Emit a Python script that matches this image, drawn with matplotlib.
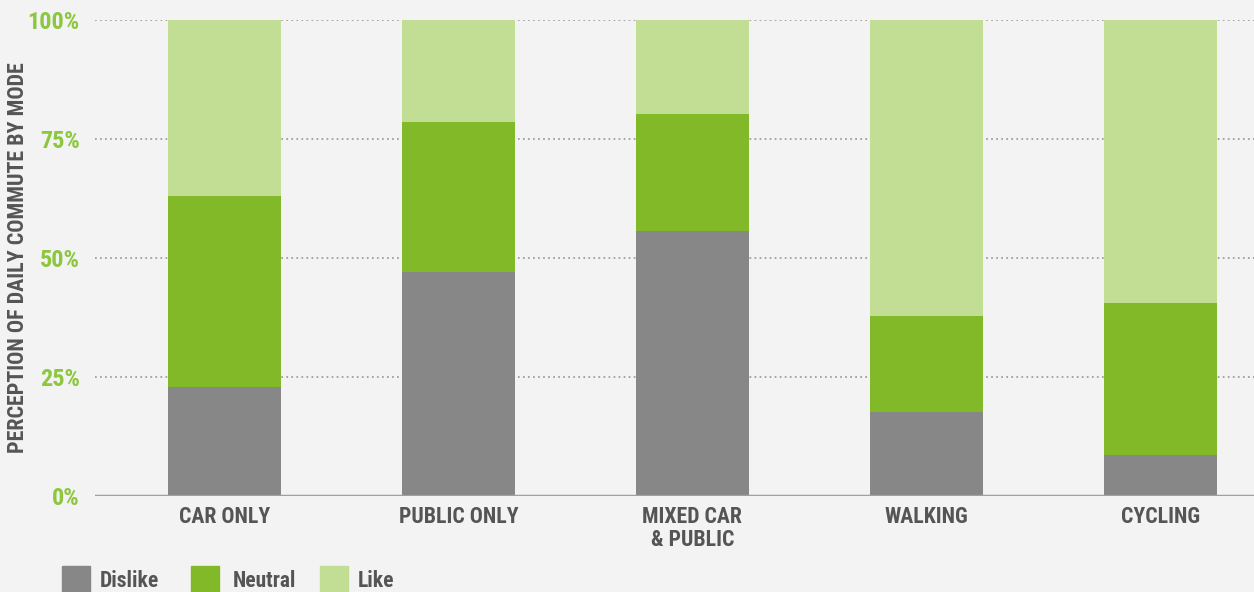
import matplotlib
matplotlib.use("Agg")
import matplotlib.pyplot as plt
from matplotlib import font_manager
from matplotlib.patches import Rectangle

categories = ["CAR ONLY", "PUBLIC ONLY", "MIXED CAR\n& PUBLIC", "WALKING", "CYCLING"]
dislike = [23, 47, 55.6, 17.7, 8.6]
neutral = [40, 31.5, 24.6, 20.2, 32.0]
like = [100 - d - n for d, n in zip(dislike, neutral)]
yticks = [0, 25, 50, 75, 100]
ytick_labels = ["0%", "25%", "50%", "75%", "100%"]
series_names = ["Dislike", "Neutral", "Like"]

names = {f.name for f in font_manager.fontManager.ttflist}
prefs = ["Liberation Sans Narrow", "Arial Narrow", "Nimbus Sans Narrow", "Roboto Condensed",
         "Pragati Narrow", "Archivo Narrow", "PT Sans Narrow"]
chosen = [f for f in prefs if f in names][:1]
fam = chosen + ["Liberation Sans", "DejaVu Sans"]
plt.rcParams['font.family'] = fam

bg = "#f3f3f3"
c_dis = "#878787"
c_neu = "#82b928"
c_like = "#c1de94"
green_txt = "#8dc63f"
gray_txt = "#555555"

fig = plt.figure(figsize=(12.54, 5.92), dpi=100, facecolor=bg)
ax = fig.add_axes([95/1254, 1 - 496/592, (1254-95)/1254, 476/592])
ax.set_facecolor(bg)

x = list(range(len(categories)))
w = 0.483
ax.bar(x, dislike, w, color=c_dis, zorder=3, label=series_names[0])
ax.bar(x, neutral, w, bottom=dislike, color=c_neu, zorder=3, label=series_names[1])
bot2 = [d + n for d, n in zip(dislike, neutral)]
ax.bar(x, like, w, bottom=bot2, color=c_like, zorder=3, label=series_names[2])

ax.set_xlim(-0.553, 4.40)
ax.set_ylim(0, 100)
for t in yticks[1:]:
    ax.axhline(t, color="#9a9a9a", linestyle=(0, (1, 1.9)), linewidth=1.25, zorder=1)
ax.axhline(0, color="#a0a0a0", linewidth=2.5, zorder=4)

for s in ax.spines.values():
    s.set_visible(False)
ax.set_yticks(yticks)
ax.set_yticklabels(ytick_labels, color=green_txt, fontsize=17.5, fontweight="bold")
ax.set_xticks(x)
ax.set_xticklabels(categories, color=gray_txt, fontsize=15.7, fontweight="bold", linespacing=1.05)
ax.tick_params(axis="both", length=0)
ax.tick_params(axis="y", pad=11)
ax.tick_params(axis="x", pad=7)

fig.text(18/1254, 1 - 258/592, "PERCEPTION OF DAILY COMMUTE BY MODE", rotation=90,
         ha="center", va="center", color=gray_txt, fontsize=15.8, fontweight="bold")

# legend
leg_sq = [62, 191, 320]
leg_txt = [100, 233, 358]
cols = [c_dis, c_neu, c_like]
for sx, tx, c, nm in zip(leg_sq, leg_txt, cols, series_names):
    fig.patches.append(Rectangle((sx/1254, 0), 28/1254, 26/592, transform=fig.transFigure,
                                 color=c, figure=fig))
    fig.text(tx/1254, 1 - 581/592, nm, ha="left", va="center", color=gray_txt,
             fontsize=15.5, fontweight="bold")

fig.savefig("out.png", dpi=100, facecolor=bg)
